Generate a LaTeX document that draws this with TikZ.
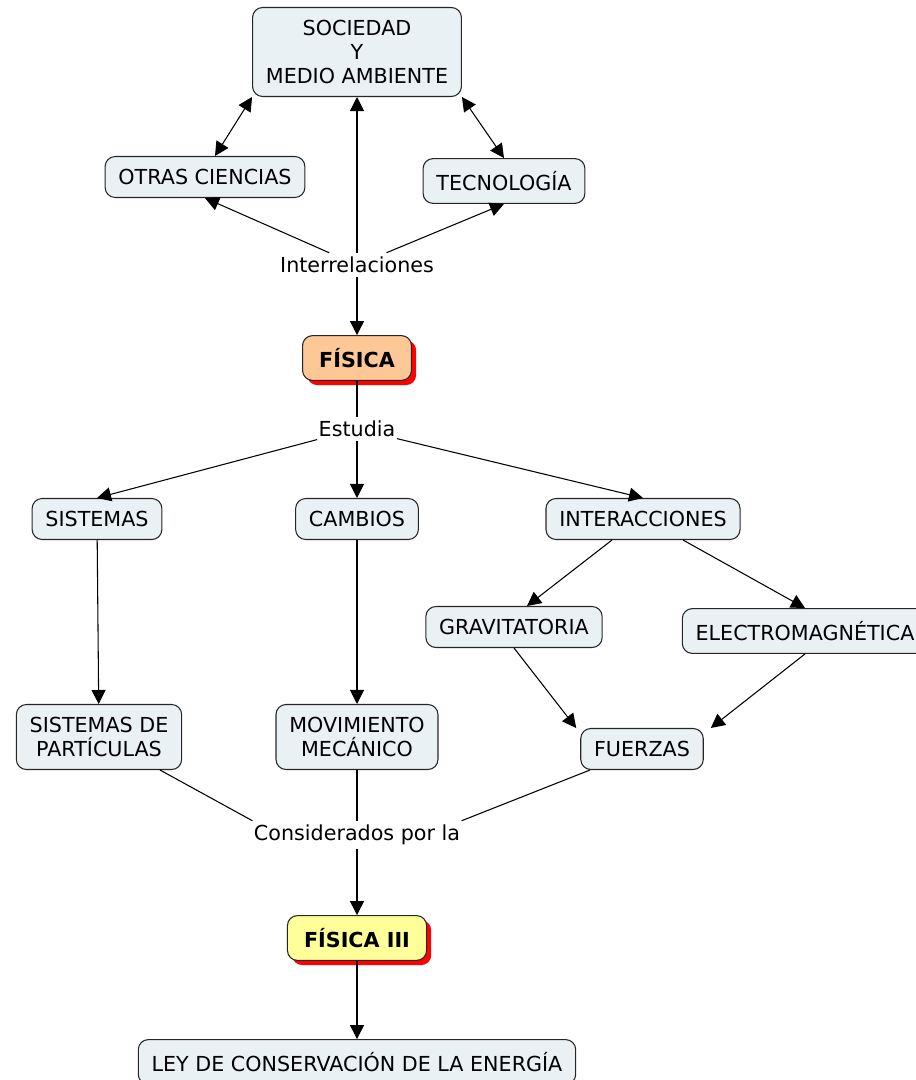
\documentclass[tikz,border=0pt]{standalone}
\usepackage{fontspec}
\setmainfont{DejaVu Sans}
\usetikzlibrary{arrows.meta,shadows,calc}
\definecolor{conceptfill}{RGB}{234,241,245}
\definecolor{fisicafill}{RGB}{253,199,150}
\definecolor{fisicatresfill}{RGB}{255,255,153}

\begin{document}
\begin{tikzpicture}[x=0.75pt,y=-0.75pt,
  concept/.style={draw=black!85,line width=0.8pt,rounded corners=7.5pt,fill=conceptfill,
    align=center,inner xsep=10pt,inner ysep=9.5pt,font=\fontsize{15.5}{18}\selectfont},
  mainconcept/.style={concept,inner xsep=12.5pt,font=\fontsize{15.5}{18}\selectfont\bfseries,
    drop shadow={fill=red,opacity=1,shadow xshift=3.5pt,shadow yshift=-3.5pt}},
  linkword/.style={inner xsep=1pt,inner ysep=3pt,font=\fontsize{15.5}{18}\selectfont},
  arr/.style={-{Triangle[length=10.5pt,width=10.5pt]},line width=0.8pt},
  darr/.style={{Triangle[length=10.5pt,width=10.5pt]}-{Triangle[length=10.5pt,width=10.5pt]},line width=0.8pt},
  plain/.style={line width=0.8pt}]
\useasboundingbox (0,0) rectangle (915,1080);

\node[concept] (soc) at (357,52) {SOCIEDAD\\Y\\MEDIO AMBIENTE};
\node[concept] (otras) at (205,177) {OTRAS CIENCIAS};
\node[concept] (tecno) at (504,181) {TECNOLOGÍA};
\node[linkword] (inter) at (357,265) {Interrelaciones};
\node[mainconcept,fill=fisicafill] (fis) at (357,358) {FÍSICA};
\node[linkword] (estudia) at (357,429) {Estudia};
\node[concept] (sist) at (97,519) {SISTEMAS};
\node[concept] (camb) at (357,519) {CAMBIOS};
\node[concept] (interac) at (643,519) {INTERACCIONES};
\node[concept] (grav) at (514,627) {GRAVITATORIA};
\node[concept] (electro) at (805,631) {ELECTROMAGNÉTICA};
\node[concept] (sistpart) at (99,737) {SISTEMAS DE\\PARTÍCULAS};
\node[concept] (movim) at (357,737) {MOVIMIENTO\\MECÁNICO};
\node[concept] (fuer) at (642,749) {FUERZAS};
\node[linkword] (consid) at (357,835) {Considerados por la};
\node[mainconcept,fill=fisicatresfill] (fis3) at (357,938) {FÍSICA III};
\node[concept] (ley) at (357,1062) {LEY DE CONSERVACIÓN DE LA ENERGÍA};

\draw[darr] ($(otras.north)+(10,0)$) -- (soc.south west);
\draw[darr] (soc.south east) -- (tecno.north);
\draw[arr] (inter) -- (soc);
\draw[arr] (inter) -- (otras.south);
\draw[arr] (inter) -- (tecno.south);
\draw[arr] (inter) -- (fis);

\draw[plain] (fis) -- (estudia);
\draw[arr] (estudia) -- (sist.north);
\draw[arr] (estudia) -- (camb);
\draw[arr] (estudia) -- (interac.north);

\draw[arr] ($(interac.south)+(-31,0)$) -- ($(grav.north)+(13,0)$);
\draw[arr] ($(interac.south)+(40,0)$) -- (electro.north);
\draw[arr] (sist) -- (sistpart);
\draw[arr] (camb) -- (movim);
\draw[arr] (grav.south) -- ($(fuer.north west)+(-4,0)$);
\draw[arr] (electro.south) -- ($(fuer.north east)+(7,0)$);

\draw[plain] ($(sistpart.south)+(61,0)$) -- (consid.north west);
\draw[plain] (movim) -- (consid);
\draw[plain] ($(fuer.south)+(-52,0)$) -- (consid.north east);
\draw[arr] (consid) -- (fis3);
\draw[arr] (fis3) -- (ley);
\end{tikzpicture}
\end{document}
